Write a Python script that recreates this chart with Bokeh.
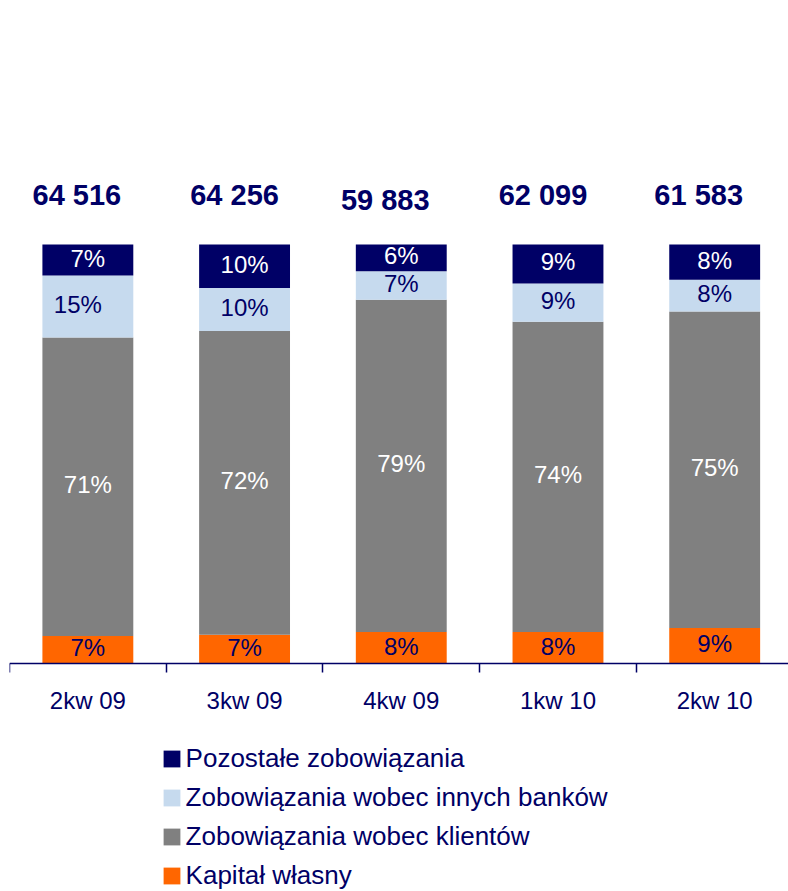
from bokeh.plotting import figure
from bokeh.models import (ColumnDataSource, Range1d, FixedTicker, Legend, LegendItem,
                          LinearAxis)
from bokeh.core.properties import value
from bokeh.embed import file_html
from bokeh.resources import INLINE

# ---- data ----
categories = ["2kw 09", "3kw 09", "4kw 09", "1kw 10", "2kw 10"]
totals = [64516, 64256, 59883, 62099, 61583]
kapital = [6.7, 7.0, 7.6, 7.6, 8.6]          # Kapitał własny (%)
klienci = [71.1, 72.4, 79.2, 74.0, 75.4]     # Zobowiązania wobec klientów (%)
banki = [14.8, 10.2, 6.8, 9.1, 7.6]          # Zobowiązania wobec innych banków (%)
pozostale = [7.4, 10.4, 6.4, 9.3, 8.4]       # Pozostałe zobowiązania (%)
series_names = ["Kapitał własny", "Zobowiązania wobec klientów",
                "Zobowiązania wobec innych banków", "Pozostałe zobowiązania"]

# ---- styling ----
NAVY = "#000066"
colors = ["#FF6600", "#808080", "#C6DAEE", NAVY]
text_colors = [NAVY, "white", NAVY, "white"]
FONT = "Liberation Sans"

xs = [i + 0.5 for i in range(len(categories))]
keys = ["kapital", "klienci", "banki", "pozostale"]
series = [kapital, klienci, banki, pozostale]

src = ColumnDataSource(dict(x=xs, **{k: v for k, v in zip(keys, series)}))

p = figure(width=788, height=891, output_backend="svg", toolbar_location=None,
           x_range=Range1d(0, 4.971), y_range=Range1d(-54.23, 158.16),
           x_axis_location=None, y_axis_location=None,
           min_border_left=9, min_border_right=0, min_border_top=0,
           min_border_bottom=0)
p.outline_line_color = None
p.grid.visible = False
p.background_fill_color = "white"

rends = p.vbar_stack(keys, x="x", width=0.58, color=colors, line_color=None, source=src)

# segment labels
seg_dx = {(2, 0): -10}   # the "15%" label sits slightly left in the original
for j, (vals, tc) in enumerate(zip(series, text_colors)):
    bottoms = [sum(s[i] for s in series[:j]) for i in range(len(xs))]
    ys = [b + v / 2 for b, v in zip(bottoms, vals)]
    labels = [f"{round(v)}%" for v in vals]
    offs = [seg_dx.get((j, i), 0) for i in range(len(xs))]
    p.text(x=xs, y=ys, text=labels, x_offset=offs, y_offset=-2,
           text_align="center", text_baseline="middle",
           text_font=value(FONT), text_font_size="24px", text_color=tc)

# total labels above bars
tot_labels = [f"{t:,}".replace(",", " ") for t in totals]
dx = [-11, -10, -16, -15, -16]
dy = [0, 0, 1.2, 0, 0]
p.text(x=xs, y=[111.7 - d for d in dy], text=tot_labels, x_offset=dx,
       text_align="center", text_baseline="middle",
       text_font=value(FONT), text_font_size="29px", text_font_style="bold",
       text_color=NAVY)

# x axis (drawn at y = 0 inside the frame)
ax = LinearAxis(ticker=FixedTicker(ticks=xs, minor_ticks=list(range(len(xs) + 1))),
                major_label_overrides={x: c for x, c in zip(xs, categories)},
                fixed_location=0)
ax.axis_line_color = NAVY
ax.axis_line_width = 1.5
ax.major_tick_out = 0
ax.major_tick_in = 0
ax.minor_tick_out = 9
ax.minor_tick_in = 0
ax.minor_tick_line_color = NAVY
ax.minor_tick_line_width = 1.5
ax.major_label_text_font = FONT
ax.major_label_text_font_size = "24px"
ax.major_label_text_color = NAVY
ax.major_label_standoff = 14
p.add_layout(ax, "below")

# legend
items = [LegendItem(label=n, renderers=[r]) for n, r in zip(series_names, rends)][::-1]
leg = Legend(items=items, location=(151.6, 0.5), orientation="vertical",
             glyph_width=21, glyph_height=21, label_height=30, spacing=8,
             label_standoff=4, padding=0, margin=0,
             label_text_font=FONT, label_text_font_size="26px",
             label_text_color=NAVY, border_line_alpha=0, background_fill_alpha=0)
p.add_layout(leg, "center")

open("out.html", "w").write(file_html(p, INLINE))
